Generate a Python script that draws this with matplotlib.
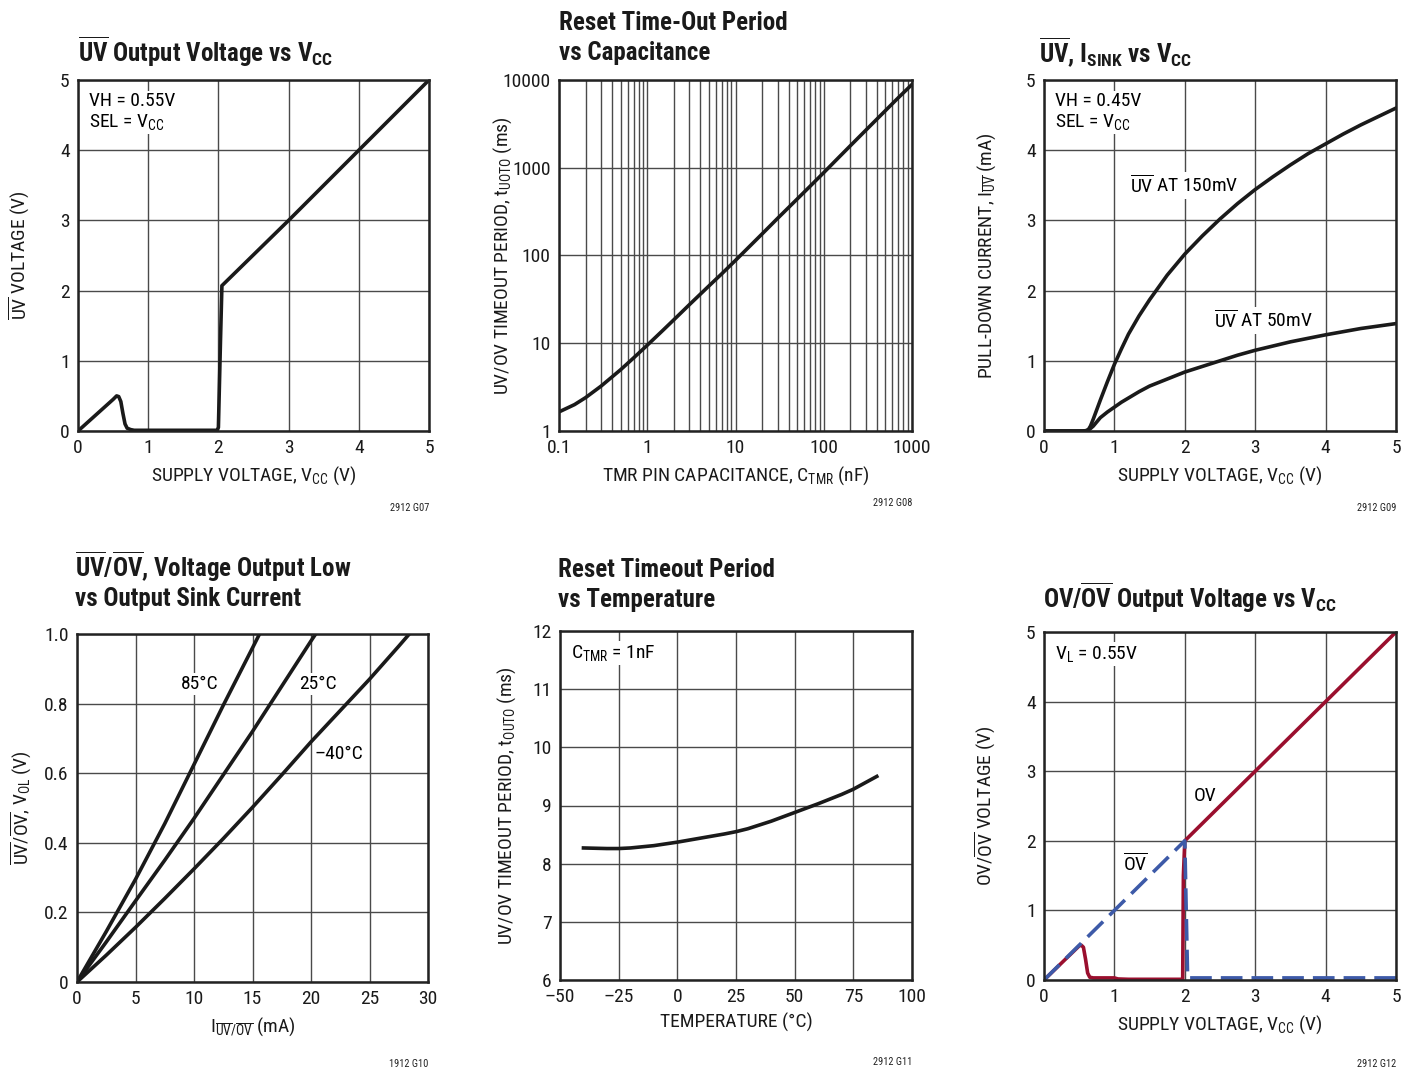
import matplotlib
matplotlib.use("Agg")
import matplotlib.pyplot as plt
from matplotlib import font_manager as fm
from matplotlib.ticker import FixedLocator, NullFormatter, LogLocator
import numpy as np


def pick_font():
    ents = fm.fontManager.ttflist
    names = {f.name for f in ents}
    for n in ['Liberation Sans Narrow', 'Roboto Condensed', 'Arial Narrow', 'Nimbus Sans Narrow',
              'Noto Sans Condensed', 'Open Sans Condensed']:
        if n in names:
            return n, 'normal'
    for n in ['Noto Sans', 'Roboto', 'Open Sans', 'DejaVu Sans', 'Liberation Sans']:
        for st in ['condensed', 'semi-condensed', 'extra-condensed']:
            if any(f.name == n and f.stretch == st and f.style == 'normal' for f in ents):
                return n, st
    return 'Liberation Sans', 'normal'


FNAME, FSTRETCH = pick_font()
plt.rcParams['font.family'] = [FNAME, 'DejaVu Sans']
plt.rcParams['font.stretch'] = FSTRETCH
plt.rcParams['mathtext.fontset'] = 'custom'
plt.rcParams['mathtext.rm'] = f'{FNAME}:stretch={FSTRETCH}'
plt.rcParams['mathtext.bf'] = f'{FNAME}:weight=bold:stretch={FSTRETCH}'
plt.rcParams['mathtext.it'] = f'{FNAME}:style=italic:stretch={FSTRETCH}'
plt.rcParams['mathtext.default'] = 'rm'

# ---------------- data ----------------
# G07: UV output voltage vs VCC
g07_vcc = [0, 0.1, 0.2, 0.3, 0.4, 0.5, 0.55, 0.58, 0.61, 0.64, 0.67, 0.7, 0.75, 0.8, 1.0, 1.5, 1.98, 2.0, 2.03, 2.05, 3.0, 4.0, 5.0]
g07_uv = [0, 0.09, 0.18, 0.27, 0.36, 0.45, 0.5, 0.49, 0.42, 0.25, 0.1, 0.04, 0.02, 0.01, 0.01, 0.01, 0.01, 0.05, 1.3, 2.07, 3.0, 4.0, 5.0]

# G08: reset timeout vs capacitance
g08_cap = [0.1, 0.15, 0.2, 0.3, 0.5, 0.7, 1, 1.5, 2, 3, 5, 7, 10, 15, 20, 30, 50, 70, 100, 150, 200, 300, 500, 700, 1000]
g08_t = [1.65, 2.0, 2.4, 3.25, 5.0, 6.8, 9.5, 14, 18.5, 27.5, 45, 62, 88, 132, 176, 265, 440, 615, 880, 1330, 1780, 2680, 4480, 6280, 8900]

# G09: UV sink current vs VCC
g09_vcc_150 = [0, 0.55, 0.6, 0.63, 0.66, 0.7, 0.8, 0.9, 1.0, 1.1, 1.2, 1.35, 1.5, 1.75, 2.0, 2.25, 2.5, 2.75, 3.0, 3.25, 3.5, 3.75, 4.0, 4.25, 4.5, 4.75, 5.0]
g09_i_150 = [0, 0, 0.005, 0.02, 0.07, 0.17, 0.44, 0.7, 0.95, 1.17, 1.38, 1.64, 1.87, 2.22, 2.52, 2.78, 3.02, 3.24, 3.44, 3.62, 3.79, 3.95, 4.09, 4.23, 4.36, 4.48, 4.6]
g09_vcc_50 = [0, 0.55, 0.6, 0.63, 0.66, 0.7, 0.75, 0.8, 0.9, 1.0, 1.1, 1.2, 1.35, 1.5, 1.75, 2.0, 2.25, 2.5, 2.75, 3.0, 3.5, 4.0, 4.5, 5.0]
g09_i_50 = [0, 0, 0.005, 0.015, 0.035, 0.07, 0.13, 0.19, 0.27, 0.34, 0.41, 0.47, 0.56, 0.64, 0.74, 0.84, 0.92, 1.0, 1.08, 1.15, 1.27, 1.37, 1.46, 1.53]

# G10: VOL vs sink current
g10_i_85 = [0, 2.5, 5, 7.5, 10, 12.5, 15, 15.6]
g10_v_85 = [0, 0.145, 0.295, 0.455, 0.625, 0.795, 0.96, 1.0]
g10_i_25 = [0, 2.5, 5, 7.5, 10, 12.5, 15, 17.5, 20, 20.4]
g10_v_25 = [0, 0.115, 0.233, 0.35, 0.47, 0.595, 0.72, 0.85, 0.98, 1.0]
g10_i_m40 = [0, 2.5, 5, 7.5, 10, 12.5, 15, 17.5, 20, 22.5, 25, 27.5, 28.4]
g10_v_m40 = [0, 0.077, 0.157, 0.24, 0.325, 0.412, 0.502, 0.595, 0.69, 0.78, 0.87, 0.965, 1.0]

# G11: timeout vs temperature
g11_temp = [-40, -30, -25, -20, -10, 0, 10, 20, 25, 30, 40, 50, 60, 70, 75, 85]
g11_t = [8.27, 8.26, 8.26, 8.27, 8.31, 8.37, 8.44, 8.51, 8.55, 8.6, 8.73, 8.88, 9.03, 9.19, 9.28, 9.5]

# G12: OV / OVbar output voltage vs VCC
g12_vcc_ov = [0, 0.5, 0.53, 0.56, 0.59, 0.62, 0.65, 0.7, 0.8, 1.0, 1.05, 1.2, 1.97, 1.98, 2.0, 5.0]
g12_ov = [0, 0.49, 0.5, 0.47, 0.3, 0.1, 0.04, 0.03, 0.03, 0.03, 0.015, 0.01, 0.01, 1.5, 2.0, 5.0]
g12_vcc_ovb = [0, 2.0, 2.02, 2.04, 5.0]
g12_ovb = [0, 2.0, 1.0, 0.03, 0.03]

W, H = 1410, 1068
fig = plt.figure(figsize=(W / 100, H / 100), dpi=100)

TICK_FS = 14
LAB_FS = 14
ANN_FS = 14
TITLE_FS = 18
GRID_C = '#4a4a4a'
LINE_W = 2.6
INK = '#1a1a1a'


def make_ax(x0, y0, x1, y1):
    ax = fig.add_axes([x0 / W, 1 - y1 / H, (x1 - x0) / W, (y1 - y0) / H])
    for s in ax.spines.values():
        s.set_linewidth(1.8)
        s.set_color('#222222')
        s.set_zorder(5)
    ax.tick_params(length=0, labelsize=TICK_FS, pad=6, which='both', labelcolor=INK)
    ax.grid(True, color=GRID_C, lw=1.0, which='major')
    ax.set_axisbelow(True)
    return ax


def labels(ax, xl, yl, yx):
    ax.set_xlabel(xl, fontsize=LAB_FS, labelpad=5, color=INK)
    ax.set_ylabel(yl, fontsize=LAB_FS, color=INK)
    ax.yaxis.set_label_coords(yx, 0.5)


def title(x, ys, lines):
    for y, t in zip(ys, lines):
        fig.text(x / W, 1 - y / H, t, fontsize=TITLE_FS, fontweight='bold',
                 ha='left', va='baseline', color=INK)


def code(x, y, t):
    fig.text(x / W, 1 - y / H, t, fontsize=7.5, ha='right', va='center', color='#222222')


box = dict(facecolor='white', edgecolor='none', pad=1.5)

# ---------- G07 ----------
ax = make_ax(78, 80, 429, 431)
ax.plot(g07_vcc, g07_uv, color=INK, lw=LINE_W, solid_joinstyle='round', zorder=3)
ax.set_xlim(0, 5); ax.set_ylim(0, 5)
ax.set_xticks(range(6)); ax.set_yticks(range(6))
labels(ax, 'SUPPLY VOLTAGE, V$_{\\mathrm{CC}}$ (V)', '$\\overline{\\mathrm{UV}}$ VOLTAGE (V)', -0.131)
ax.text(0.03, 0.965, 'VH = 0.55V\nSEL = V$_{\\mathrm{CC}}$', transform=ax.transAxes, fontsize=ANN_FS,
        va='top', ha='left', bbox=box, linespacing=1.1, zorder=2)
title(78, [62], ['$\\overline{\\mathbf{UV}}$ Output Voltage vs V$_{\\mathbf{CC}}$'])
code(429, 508, '2912 G07')

# ---------- G08 ----------
ax = make_ax(559, 80, 912, 431)
ax.plot(g08_cap, g08_t, color=INK, lw=LINE_W, zorder=3)
ax.set_xscale('log'); ax.set_yscale('log')
ax.set_xlim(0.1, 1000); ax.set_ylim(1, 10000)
ax.xaxis.set_minor_locator(LogLocator(base=10, subs=np.arange(2, 10)))
ax.xaxis.set_minor_formatter(NullFormatter())
ax.set_xticks([0.1, 1, 10, 100, 1000], ['0.1', '1', '10', '100', '1000'])
ax.set_yticks([1, 10, 100, 1000, 10000], ['1', '10', '100', '1000', '10000'])
ax.yaxis.set_minor_locator(FixedLocator([]))
ax.grid(True, which='minor', axis='x', color=GRID_C, lw=1.0)
labels(ax, 'TMR PIN CAPACITANCE, C$_{\\mathrm{TMR}}$ (nF)', 'UV/OV TIMEOUT PERIOD, t$_{\\mathrm{UOTO}}$ (ms)', -0.128)
title(559, [30, 60], ['Reset Time-Out Period', 'vs Capacitance'])
code(912, 503, '2912 G08')

# ---------- G09 ----------
ax = make_ax(1044, 80, 1396, 431)
ax.plot(g09_vcc_150, g09_i_150, color=INK, lw=LINE_W, zorder=3)
ax.plot(g09_vcc_50, g09_i_50, color=INK, lw=LINE_W, zorder=3)
ax.set_xlim(0, 5); ax.set_ylim(0, 5)
ax.set_xticks(range(6)); ax.set_yticks(range(6))
labels(ax, 'SUPPLY VOLTAGE, V$_{\\mathrm{CC}}$ (V)', 'PULL-DOWN CURRENT, I$_{\\overline{\\mathrm{UV}}}$ (mA)', -0.131)
ax.text(0.03, 0.965, 'VH = 0.45V\nSEL = V$_{\\mathrm{CC}}$', transform=ax.transAxes, fontsize=ANN_FS,
        va='top', ha='left', bbox=box, linespacing=1.1, zorder=2)
ax.text(1.22, 3.5, '$\\overline{\\mathrm{UV}}$ AT 150mV', fontsize=ANN_FS, va='center', ha='left', bbox=box, zorder=2)
ax.text(2.42, 1.57, '$\\overline{\\mathrm{UV}}$ AT 50mV', fontsize=ANN_FS, va='center', ha='left', bbox=box, zorder=2)
title(1039, [62], ['$\\overline{\\mathbf{UV}}$, I$_{\\mathbf{SINK}}$ vs V$_{\\mathbf{CC}}$'])
code(1396, 508, '2912 G09')

# ---------- G10 ----------
ax = make_ax(77, 634, 428, 982)
for xs, ys in [(g10_i_85, g10_v_85), (g10_i_25, g10_v_25), (g10_i_m40, g10_v_m40)]:
    ax.plot(xs, ys, color=INK, lw=LINE_W, zorder=3)
ax.set_xlim(0, 30); ax.set_ylim(0, 1.0)
ax.set_xticks(range(0, 31, 5))
ax.set_yticks([0, 0.2, 0.4, 0.6, 0.8, 1.0], ['0', '0.2', '0.4', '0.6', '0.8', '1.0'])
ax.text(10.5, 0.857, '85°C', fontsize=ANN_FS, ha='center', va='center', bbox=box, zorder=2)
ax.text(20.6, 0.857, '25°C', fontsize=ANN_FS, ha='center', va='center', bbox=box, zorder=2)
ax.text(22.4, 0.656, '\u201340°C', fontsize=ANN_FS, ha='center', va='center', bbox=box, zorder=2)
labels(ax, 'I$_{\\overline{\\mathrm{UV}}/\\overline{\\mathrm{OV}}}$ (mA)',
       '$\\overline{\\mathrm{UV}}$/$\\overline{\\mathrm{OV}}$, V$_{\\mathrm{OL}}$ (V)', -0.123)
title(75, [577, 606], ['$\\overline{\\mathbf{UV}}$/$\\overline{\\mathbf{OV}}$, Voltage Output Low',
                       'vs Output Sink Current'])
code(428, 1064, '1912 G10')

# ---------- G11 ----------
ax = make_ax(560, 631, 912, 980)
ax.plot(g11_temp, g11_t, color=INK, lw=LINE_W, zorder=3)
ax.set_xlim(-50, 100); ax.set_ylim(6, 12)
ax.set_xticks(range(-50, 101, 25), ['\u201350', '\u201325', '0', '25', '50', '75', '100'])
ax.set_yticks(range(6, 13))
ax.text(0.03, 0.965, 'C$_{\\mathrm{TMR}}$ = 1nF', transform=ax.transAxes, fontsize=ANN_FS,
        va='top', ha='left', bbox=box, zorder=2)
labels(ax, 'TEMPERATURE (°C)', 'UV/OV TIMEOUT PERIOD, t$_{\\mathrm{OUTO}}$ (ms)', -0.12)
title(558, [577, 607], ['Reset Timeout Period', 'vs Temperature'])
code(912, 1062, '2912 G11')

# ---------- G12 ----------
ax = make_ax(1044, 632, 1396, 980)
ax.plot(g12_vcc_ov, g12_ov, color='#9a0f2e', lw=LINE_W, zorder=3)
ax.plot(g12_vcc_ovb, g12_ovb, color='#3d5aa8', lw=LINE_W, ls=(0, (6, 2.5)), zorder=3.5)
ax.set_xlim(0, 5); ax.set_ylim(0, 5)
ax.set_xticks(range(6)); ax.set_yticks(range(6))
ax.text(0.03, 0.965, 'V$_{\\mathrm{L}}$ = 0.55V', transform=ax.transAxes, fontsize=ANN_FS,
        va='top', ha='left', bbox=box, zorder=2)
ax.text(2.29, 2.64, 'OV', fontsize=ANN_FS, ha='center', va='center', bbox=box, zorder=2)
ax.text(1.3, 1.68, '$\\overline{\\mathrm{OV}}$', fontsize=ANN_FS, ha='center', va='center', bbox=box, zorder=2)
labels(ax, 'SUPPLY VOLTAGE, V$_{\\mathrm{CC}}$ (V)', 'OV/$\\overline{\\mathrm{OV}}$ VOLTAGE (V)', -0.131)
title(1043, [608], ['OV/$\\overline{\\mathbf{OV}}$ Output Voltage vs V$_{\\mathbf{CC}}$'])
code(1396, 1064, '2912 G12')

fig.savefig('out.png', dpi=100, facecolor='white')
